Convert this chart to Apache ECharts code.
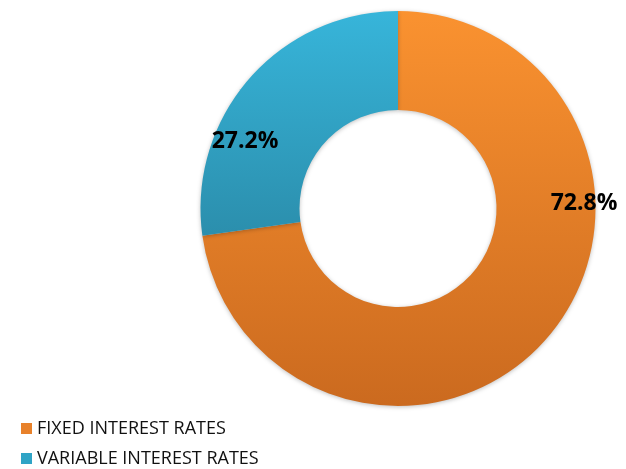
<!DOCTYPE html>
<html><head><meta charset="utf-8">
<script src="https://cdn.jsdelivr.net/npm/echarts@6/dist/echarts.min.js"></script>
<style>html,body{margin:0;padding:0;background:#fff}#c{width:626px;height:469px}</style>
</head><body><div id="c"></div>
<script>
const categories = ['FIXED INTEREST RATES', 'VARIABLE INTEREST RATES'];
const values = [72.8, 27.2];
const labelTexts = ['72.8%', '27.2%'];

const chart = echarts.init(document.getElementById('c'));
const grads = [
  new echarts.graphic.LinearGradient(0, 11, 0, 406, [{offset:0,color:'#FA9230'},{offset:1,color:'#CB6A1F'}], true),
  new echarts.graphic.LinearGradient(0, 11, 0, 406, [{offset:0,color:'#37B5DA'},{offset:1,color:'#22718A'}], true)
];
const legendColors = ['#E8812A', '#2FA4C6'];
const legendTops = [419.5, 449.5];
const labelPos = [[584, 203], [245, 141]];
chart.setOption({
  animation: false,
  legend: categories.map((c, i) => ({
    left: 21, top: legendTops[i], padding: 0, itemWidth: 11, itemHeight: 11,
    icon: 'rect', selectedMode: false,
    textStyle: {fontFamily: 'Open Sans', fontSize: 18, color: '#111'},
    data: [{name: c, itemStyle: {color: legendColors[i]}}]
  })),
  series: [{
    type: 'pie',
    center: [398, 208.5],
    radius: [98.5, 197.5],
    startAngle: 90,
    clockwise: true,
    itemStyle: {shadowBlur: 4, shadowColor: 'rgba(0,0,0,0.25)', shadowOffsetY: 1},
    label: {
      show: true, position: 'inside',
      formatter: p => labelTexts[p.dataIndex],
      fontFamily: 'Open Sans', fontWeight: 'bold', fontSize: 23, color: '#000'
    },
    labelLayout: p => ({x: labelPos[p.dataIndex][0], y: labelPos[p.dataIndex][1], align: 'center', verticalAlign: 'middle'}),
    emphasis: {disabled: true},
    data: categories.map((c, i) => ({name: c, value: values[i], itemStyle: {color: grads[i]}}))
  }]
});
</script></body></html>
